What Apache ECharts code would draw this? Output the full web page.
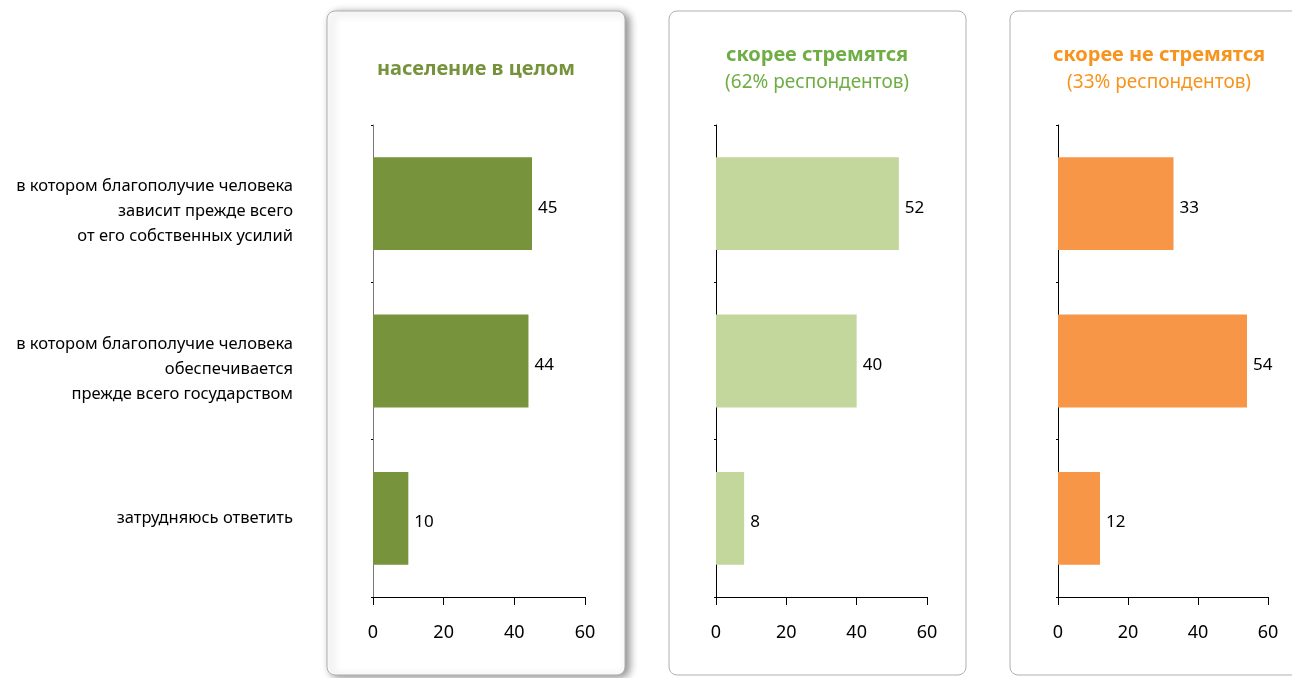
<!DOCTYPE html>
<html><head><meta charset="utf-8">
<script src="https://cdn.jsdelivr.net/npm/echarts@6/dist/echarts.min.js"></script>
<style>html,body{margin:0;padding:0;background:#fff}#c{width:1292px;height:678px}</style>
</head><body><div id="c"></div>
<script>
const categories = [
  'в котором благополучие человека\nзависит прежде всего\nот его собственных усилий',
  'в котором благополучие человека\nобеспечивается\nпрежде всего государством',
  'затрудняюсь ответить'
];
const totalValues = [45, 44, 10];
const strivingValues = [52, 40, 8];
const notStrivingValues = [33, 54, 12];
const xTicks = [0, 20, 40, 60];
const panelTitles = ['население в целом', 'скорее стремятся', 'скорее не стремятся'];
const panelSubtitles = ['', '(62% респондентов)', '(33% респондентов)'];

const FONT = 'Noto Sans';
const chart = echarts.init(document.getElementById('c'));
const grids = [
  {left: 373, top: 125, width: 212, height: 472},
  {left: 716, top: 125, width: 211, height: 472},
  {left: 1058, top: 125, width: 210, height: 472}
];
const colors = ['#77933c', '#c3d69b', '#f79646'];
const titleColors = ['#76933c', '#6fae44', '#f7941d'];
const seriesData = [totalValues, strivingValues, notStrivingValues];

const xAxes = grids.map((g, i) => ({
  gridIndex: i, type: 'value', min: xTicks[0], max: xTicks[xTicks.length - 1], interval: 20,
  splitLine: {show: false},
  axisLine: {show: true, lineStyle: {color: '#000', width: 1}},
  axisTick: {show: true, length: 8, lineStyle: {color: '#000'}},
  axisLabel: {margin: 27, fontSize: 18, color: '#000', fontFamily: FONT}
}));
const yAxes = grids.map((g, i) => ({
  gridIndex: i, type: 'category', inverse: true, data: categories,
  axisLine: {show: true, lineStyle: {color: i === 0 ? '#777' : '#000', width: 1}},
  axisTick: {show: true, length: 2, lineStyle: {color: '#000'}},
  axisLabel: i === 0 ? {
    show: true, margin: 80, color: '#000', fontFamily: FONT, align: 'right',
    formatter: v => v.indexOf('\n') >= 0
      ? '{s|}\n' + v.split('\n').map(l => '{t|' + l + '}').join('\n')
      : '{t|' + v + '}',
    rich: {
      s: {fontSize: 1, lineHeight: 16},
      t: {fontSize: 16.5, lineHeight: 25, color: '#000', fontFamily: FONT, align: 'right'}
    }
  } : {show: false}
}));
const series = seriesData.map((d, i) => ({
  type: 'bar', xAxisIndex: i, yAxisIndex: i, data: d, barWidth: '59%',
  itemStyle: {color: colors[i]},
  label: {show: true, position: 'right', distance: 6, offset: [0, 4], fontSize: 17, color: '#000', fontFamily: FONT}
}));
const panels = [
  {x: 327, w: 298}, {x: 669, w: 297}, {x: 1010, w: 300}
];
const graphic = panels.map((p, i) => ({
  type: 'rect', z: -10, shape: {x: p.x, y: 11, width: p.w, height: 664, r: 8},
  style: Object.assign({fill: '#fff', stroke: '#b0b0b0', lineWidth: 1},
    i === 0 ? {shadowBlur: 8, shadowOffsetX: 4, shadowOffsetY: 2, shadowColor: 'rgba(0,0,0,0.45)'} : {})
}));
const titleCenters = [471, 812, 1154];
const titles = panels.map((p, i) => ({
  left: titleCenters[i], top: i === 0 ? 54 : 40, textAlign: 'center',
  text: panelTitles[i], subtext: panelSubtitles[i], itemGap: 8,
  textStyle: {color: titleColors[i], fontSize: 20, fontWeight: 'bold', fontFamily: FONT},
  subtextStyle: {color: titleColors[i], fontSize: 19, fontWeight: 'normal', fontFamily: FONT}
}));
chart.setOption({
  animation: false,
  title: titles,
  grid: grids,
  xAxis: xAxes,
  yAxis: yAxes,
  series: series,
  graphic: graphic
});
</script></body></html>
